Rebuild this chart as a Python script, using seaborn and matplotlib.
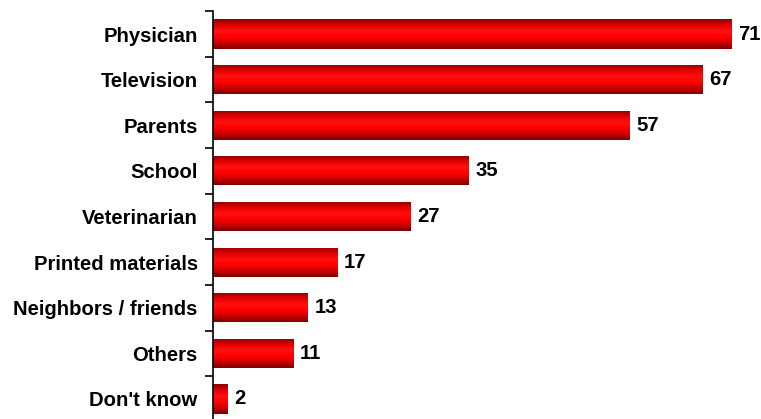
import numpy as np
import pandas as pd
import matplotlib
matplotlib.use("Agg")
import matplotlib.pyplot as plt
import seaborn as sns
from matplotlib.colors import LinearSegmentedColormap

categories = ["Physician", "Television", "Parents", "School", "Veterinarian",
              "Printed materials", "Neighbors / friends", "Others", "Don't know"]
values = [71, 67, 57, 35, 27, 17, 13, 11, 2]

df = pd.DataFrame({"source": categories, "pct": values})

sns.set_theme(style="white")
plt.rcParams["font.family"] = ["Liberation Sans", "DejaVu Sans"]

W, H = 761, 419
fig = plt.figure(figsize=(W / 100, H / 100), dpi=100)
top_px, bot_px, left_px = 11.2, 421.8, 213
ax = fig.add_axes([left_px / W, 1 - bot_px / H, (W - left_px) / W, (bot_px - top_px) / H])

sns.barplot(data=df, x="pct", y="source", orient="h", width=0.64,
            color="red", ax=ax)

# cylinder-like red shading, dark at the edges and bright through the middle
shade = LinearSegmentedColormap.from_list(
    "redshade", ["#7a0000", "#c80000", "#ff0000", "#ff1010", "#e00000", "#8a0000"])
grad = np.linspace(0, 1, 256).reshape(-1, 1)
for patch in ax.patches:
    x0, y0 = patch.get_x(), patch.get_y()
    w, h = patch.get_width(), patch.get_height()
    patch.set_facecolor("none")
    patch.set_edgecolor("none")
    im = ax.imshow(grad, cmap=shade, aspect="auto",
                   extent=[x0, x0 + w, y0, y0 + h], origin="upper", zorder=2)
    im.set_clip_path(patch)

fs = 14.6
for i, v in enumerate(values):
    ax.text(v + 0.9, i, f"{v}", va="center", ha="left",
            fontsize=fs, fontweight="bold", color="black")

ax.set_xlim(0, 75)
ax.set_ylim(len(categories) - 0.5, -0.5)
ax.set_xlabel("")
ax.set_ylabel("")
ax.set_xticks([])
ax.set_yticks(np.arange(len(categories) + 1) - 0.5, minor=False)
ax.set_yticks(np.arange(len(categories)), minor=True)
ax.set_yticklabels([], minor=False)
ax.set_yticklabels(categories, minor=True, fontsize=fs, fontweight="bold", color="black")
ax.tick_params(axis="y", which="major", left=True, length=6, width=1.2, color="black")
ax.tick_params(axis="y", which="minor", left=False, length=0, pad=11)
for s in ["top", "right", "bottom"]:
    ax.spines[s].set_visible(False)
ax.spines["left"].set_color("black")
ax.spines["left"].set_linewidth(1.2)

fig.savefig("out.png", dpi=100)
